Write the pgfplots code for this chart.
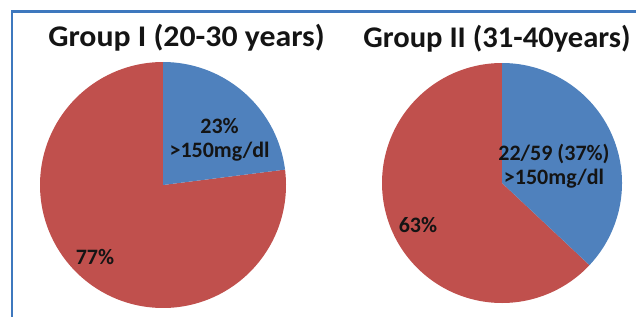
\documentclass[border=0pt]{standalone}
\usepackage{pgfplots}
\pgfplotsset{compat=1.18}
\usepackage{fontspec}
\setmainfont{Carlito}
\definecolor{pieblue}{RGB}{79,129,189}
\definecolor{piered}{RGB}{192,80,77}
\definecolor{framecol}{RGB}{62,120,190}
\definecolor{txt}{RGB}{20,20,20}
% values (percent)
\def\gIhigh{23}\def\gIlow{77}
\def\gIIhigh{37}\def\gIIlow{63}
\begin{document}
\begin{tikzpicture}[x=1bp,y=1bp]
\path[use as bounding box] (0,0) rectangle (636,316);
% left pie
\begin{axis}[at={(163bp,131bp)}, anchor=center, scale only axis,
  width=246bp, height=246bp, xmin=-1, xmax=1, ymin=-1, ymax=1,
  hide axis, clip=false]
\addplot[fill=piered, draw=none, domain=90-\gIhigh*3.6:-270, samples=200] ({cos(x)},{sin(x)}) -- (axis cs:0,0) -- cycle;
\addplot[fill=pieblue, draw=none, domain=90:90-\gIhigh*3.6, samples=100] ({cos(x)},{sin(x)}) -- (axis cs:0,0) -- cycle;
\node[txt, font=\fontsize{22bp}{24bp}\selectfont\bfseries, align=center] at (axis cs:0.46,0.37) {23\%\\{>}150mg/dl};
\node[txt, font=\fontsize{22bp}{24bp}\selectfont\bfseries] at (axis cs:-0.553,-0.585) {77\%};
\end{axis}
% right pie
\begin{axis}[at={(502bp,133bp)}, anchor=center, scale only axis,
  width=240bp, height=240bp, xmin=-1, xmax=1, ymin=-1, ymax=1,
  hide axis, clip=false]
\addplot[fill=piered, draw=none, domain=90-\gIIhigh*3.6:-270, samples=200] ({cos(x)},{sin(x)}) -- (axis cs:0,0) -- cycle;
\addplot[fill=pieblue, draw=none, domain=90:90-\gIIhigh*3.6, samples=100] ({cos(x)},{sin(x)}) -- (axis cs:0,0) -- cycle;
\node[txt, font=\fontsize{22bp}{24bp}\selectfont\bfseries, align=center] at (axis cs:0.433,0.14) {22/59 (37\%)\\{>}150mg/dl};
\node[txt, font=\fontsize{22bp}{24bp}\selectfont\bfseries] at (axis cs:-0.70,-0.35) {63\%};
\end{axis}
\node[txt, font=\fontsize{30bp}{32bp}\selectfont\bfseries, anchor=base, xscale=1.06] at (186.5,269.5) {Group I (20-30 years)};
\node[txt, font=\fontsize{30bp}{32bp}\selectfont\bfseries, anchor=base, xscale=1.02] at (497,268.5) {Group II (31-40years)};
\fill[framecol] (10.5,-2) rectangle (12.8,305.5);
\fill[framecol] (10.5,303.2) rectangle (640,305.5);
\end{tikzpicture}
\end{document}
